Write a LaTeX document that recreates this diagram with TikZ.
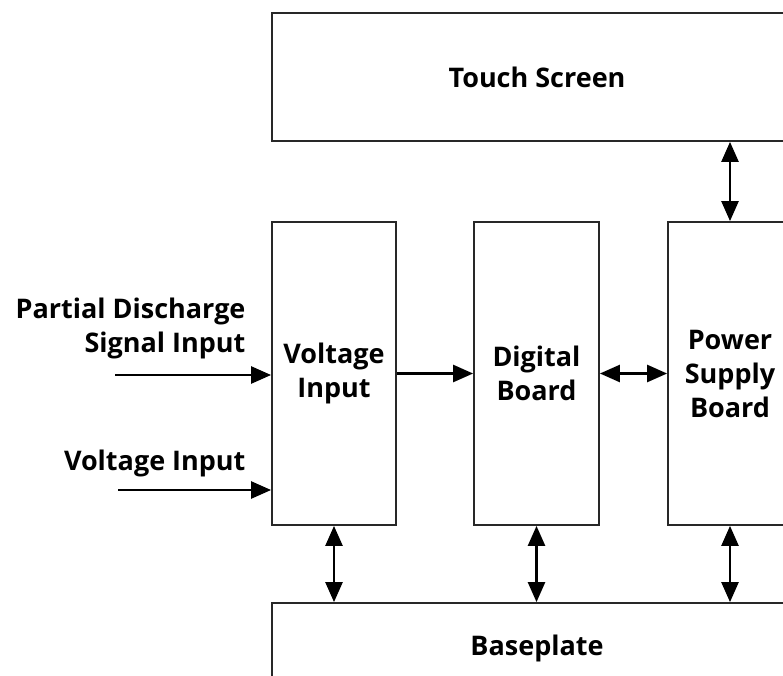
\documentclass[tikz,border=0pt]{standalone}
\usepackage{fontspec}
\setmainfont{Open Sans}[BoldFont={Open Sans Bold}]
\usetikzlibrary{arrows.meta,positioning}
\definecolor{edge}{RGB}{40,40,40}

\begin{document}
\begin{tikzpicture}[
  x=1pt,y=-1pt,
  font=\bfseries\fontsize{27}{34}\selectfont,
  block/.style={draw=edge,line width=1.8pt,fill=white,align=center,inner sep=0pt},
  arr/.style={-{Triangle[length=20pt,width=17pt]},line width=2.5pt},
  biarr/.style={{Triangle[length=20pt,width=17pt]}-{Triangle[length=20pt,width=17pt]},line width=2.5pt},
]
\useasboundingbox (0,0) rectangle (783,676);
\clip (0,0) rectangle (783,676);
% blocks
\node[block,minimum width=530pt,minimum height=128pt] (touch) at (537,77) {Touch Screen};
\node[block,minimum width=124pt,minimum height=303pt] (vin) at (334,373.5) {Voltage\\Input};
\node[block,minimum width=125pt,minimum height=303pt] (dig) at (536.5,373.5) {Digital\\Board};
\node[block,minimum width=124pt,minimum height=303pt] (psu) at (730,373.5) {Power\\Supply\\Board};
\node[block,minimum width=530pt,minimum height=90pt] (base) at (537,648) {Baseplate};
% inputs on the left
\node[anchor=east,align=right] (pdlabel) at (249,328) {Partial Discharge\\Signal Input};
\node[anchor=east] (vlabel) at (249,463) {Voltage Input};
\coordinate (pdstart) at (115,375);
\coordinate (vstart) at (118,490);
\draw[arr] (pdstart) -- (pdstart -| vin.west);
\draw[arr] (vstart) -- (vstart -| vin.west);
% links between blocks
\draw[arr] (vin) -- (dig);
\draw[biarr] (dig) -- (psu);
\draw[biarr] (psu.north) -- (psu.north |- touch.south);
\draw[biarr] (vin.south) -- (vin.south |- base.north);
\draw[biarr] (dig.south) -- (dig.south |- base.north);
\draw[biarr] (psu.south) -- (psu.south |- base.north);
\end{tikzpicture}
\end{document}
